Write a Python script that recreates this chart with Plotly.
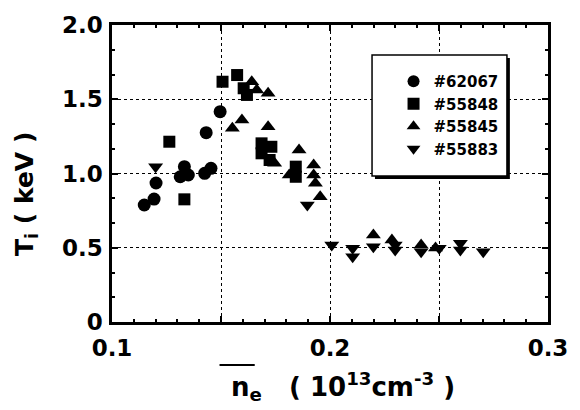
import plotly.graph_objects as go

# ---- data ----
ne_62067 = [0.1148, 0.1193, 0.1202, 0.1313, 0.1332, 0.1350, 0.1425, 0.1454, 0.1432, 0.1496]
ti_62067 = [0.788, 0.828, 0.936, 0.978, 1.046, 0.990, 1.001, 1.035, 1.275, 1.416]

ne_55848 = [0.1263, 0.1332, 0.1507, 0.1574, 0.1604, 0.1619, 0.1686, 0.1686, 0.1731, 0.1723, 0.1843, 0.1843]
ti_55848 = [1.214, 0.826, 1.618, 1.663, 1.574, 1.529, 1.203, 1.136, 1.180, 1.091, 1.046, 0.978]

ne_55845 = [0.1641, 0.1664, 0.1716, 0.1596, 0.1552, 0.1716, 0.1746, 0.1858, 0.1813, 0.1925, 0.1925,
            0.1933, 0.1955, 0.2199, 0.2284, 0.2418, 0.2484]
ti_55845 = [1.618, 1.562, 1.540, 1.360, 1.304, 1.315, 1.069, 1.158, 0.990, 1.057, 0.990,
            0.934, 0.844, 0.586, 0.552, 0.519, 0.498]

ne_55883 = [0.1200, 0.1896, 0.2008, 0.2104, 0.2104, 0.2199, 0.2299, 0.2299, 0.2418, 0.2501, 0.2598, 0.2598, 0.2703]
ti_55883 = [1.046, 0.788, 0.519, 0.496, 0.440, 0.507, 0.519, 0.485, 0.473, 0.496, 0.530, 0.485, 0.473]

x_tickvals = [0.1, 0.15, 0.2, 0.25, 0.3]
x_ticktext = ["0.1", "", "0.2", "", "0.3"]
y_tickvals = [0, 0.5, 1.0, 1.5, 2.0]
y_ticktext = ["0", "0.5", "1.0", "1.5", "2.0"]

FONT = "DejaVu Sans"

series = [
    ("#62067", ne_62067, ti_62067, "circle", 13),
    ("#55848", ne_55848, ti_55848, "square", 12),
    ("#55845", ne_55845, ti_55845, "triangle-up", 13),
    ("#55883", ne_55883, ti_55883, "triangle-down", 13),
]

fig = go.Figure()
for name, xs, ys, sym, sz in series:
    fig.add_trace(go.Scatter(
        x=xs, y=ys, mode="markers", name=name,
        marker=dict(symbol=sym, size=sz, color="black", line=dict(width=0)),
    ))

axis_common = dict(
    showline=True, linecolor="black", linewidth=2.5, mirror="allticks",
    ticks="inside", tickcolor="black", ticklen=6, tickwidth=1.5,
    showgrid=True, gridcolor="black", gridwidth=1.2, griddash="dot",
    zeroline=False,
    tickfont=dict(family=FONT, size=23, color="black", weight="bold"),
)

fig.update_xaxes(
    range=[0.1, 0.3], tickmode="array", tickvals=x_tickvals, ticktext=x_ticktext,
    ticklabelstandoff=4,
    minor=dict(dtick=0.01, tick0=0.1, ticks="inside", ticklen=3, tickcolor="black", showgrid=False),
    **axis_common,
)
fig.update_yaxes(
    range=[0, 2.0], tickmode="array", tickvals=y_tickvals, ticktext=y_ticktext,
    ticklabelstandoff=2,
    minor=dict(dtick=1/6, tick0=0, ticks="inside", ticklen=3, tickcolor="black", showgrid=False),
    **axis_common,
)

L, R, T, B = 112, 22, 25, 88
W, H = 580, 410
pw, ph = W - L - R, H - T - B

def px_x(p):
    return (p - L) / pw

def px_y(p):
    return (H - B - p) / ph

# legend box with shadow
bx0, bx1, by0, by1 = 378, 516, 55, 176
fig.add_shape(type="rect", xref="paper", yref="paper",
              x0=px_x(bx0 + 3), x1=px_x(bx1 + 3), y0=px_y(by1 + 3), y1=px_y(by0 + 3),
              fillcolor="black", line=dict(width=0), layer="above")
fig.add_shape(type="rect", xref="paper", yref="paper",
              x0=px_x(bx0), x1=px_x(bx1), y0=px_y(by1), y1=px_y(by0),
              fillcolor="white", line=dict(color="black", width=1.5), layer="above")

# overline over n
fig.add_shape(type="line", xref="paper", yref="paper",
              x0=px_x(222), x1=px_x(258), y0=px_y(365), y1=px_y(365),
              line=dict(color="black", width=2), layer="above")

fig.add_annotation(
    xref="paper", yref="paper", x=px_x(232), y=px_y(386), xanchor="left", yanchor="middle",
    text="n<sub>e</sub>   ( 10<sup>13</sup>cm<sup>-3</sup> )", showarrow=False,
    font=dict(family=FONT, size=26, color="black", weight="bold"),
)
fig.add_annotation(
    xref="paper", yref="paper", x=px_x(24), y=px_y(194), xanchor="center", yanchor="middle",
    text="T<sub>i</sub> ( keV )", textangle=-90, showarrow=False,
    font=dict(family=FONT, size=25, color="black", weight="bold"),
)

fig.update_layout(
    width=W, height=H,
    margin=dict(l=L, r=R, t=T, b=B, pad=0),
    paper_bgcolor="white", plot_bgcolor="white",
    showlegend=True,
    legend=dict(
        x=px_x(400), y=px_y(65), xanchor="left", yanchor="top",
        bgcolor="rgba(0,0,0,0)", borderwidth=0,
        font=dict(family=FONT, size=15, color="black", weight="bold"),
        itemsizing="constant",
    ),
)

fig.write_html("out.html")
